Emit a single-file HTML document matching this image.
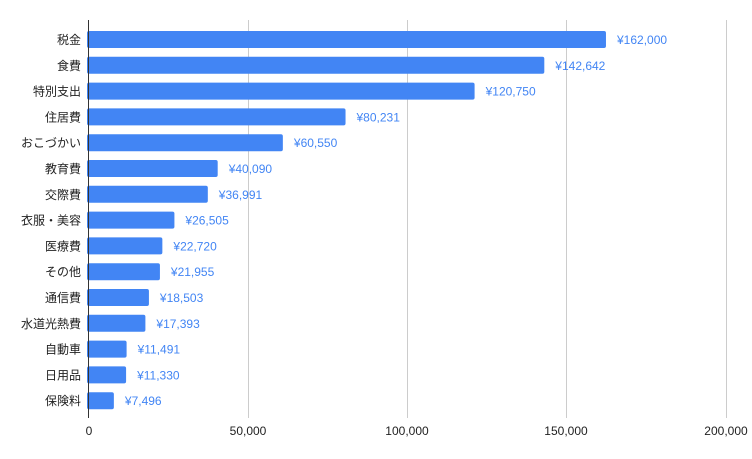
<!DOCTYPE html><html><head><meta charset="utf-8"><style>body{margin:0;background:#fff}svg{display:block}</style></head><body>
<svg width="752" height="459" xmlns="http://www.w3.org/2000/svg" font-family="Liberation Sans, Noto Sans CJK JP, sans-serif">
<g stroke="#cccccc" stroke-width="1">
<line x1="248.5" y1="20" x2="248.5" y2="418"/><line x1="407.5" y1="20" x2="407.5" y2="418"/><line x1="566.5" y1="20" x2="566.5" y2="418"/><line x1="726.5" y1="20" x2="726.5" y2="418"/>
</g>
<g fill="#4285f4">
<rect x="87" y="31" width="518.97" height="17" rx="2"/>
<rect x="87" y="56.8" width="457.31" height="17" rx="2"/>
<rect x="87" y="82.6" width="387.59" height="17" rx="2"/>
<rect x="87" y="108.4" width="258.54" height="17" rx="2"/>
<rect x="87" y="134.2" width="195.85" height="17" rx="2"/>
<rect x="87" y="160" width="130.69" height="17" rx="2"/>
<rect x="87" y="185.8" width="120.82" height="17" rx="2"/>
<rect x="87" y="211.6" width="87.42" height="17" rx="2"/>
<rect x="87" y="237.4" width="75.36" height="17" rx="2"/>
<rect x="87" y="263.2" width="72.93" height="17" rx="2"/>
<rect x="87" y="289" width="61.93" height="17" rx="2"/>
<rect x="87" y="314.8" width="58.4" height="17" rx="2"/>
<rect x="87" y="340.6" width="39.6" height="17" rx="2"/>
<rect x="87" y="366.4" width="39.09" height="17" rx="2"/>
<rect x="87" y="392.2" width="26.87" height="17" rx="2"/>
</g>
<line x1="88.5" y1="20" x2="88.5" y2="418" stroke="#333" stroke-width="1"/>
<g font-size="12" fill="#222" text-anchor="end">
<text x="81" y="44">税金</text>
<text x="81" y="69.8">食費</text>
<text x="81" y="95.6">特別支出</text>
<text x="81" y="121.4">住居費</text>
<text x="81" y="147.2">おこづかい</text>
<text x="81" y="173">教育費</text>
<text x="81" y="198.8">交際費</text>
<text x="81" y="224.6">衣服・美容</text>
<text x="81" y="250.4">医療費</text>
<text x="81" y="276.2">その他</text>
<text x="81" y="302">通信費</text>
<text x="81" y="327.8">水道光熱費</text>
<text x="81" y="353.6">自動車</text>
<text x="81" y="379.4">日用品</text>
<text x="81" y="405.2">保険料</text>
</g>
<g font-size="12" fill="#4285f4">
<text x="617" y="44">¥162,000</text>
<text x="555.3" y="69.8">¥142,642</text>
<text x="485.6" y="95.6">¥120,750</text>
<text x="356.5" y="121.4">¥80,231</text>
<text x="293.9" y="147.2">¥60,550</text>
<text x="228.7" y="173">¥40,090</text>
<text x="218.8" y="198.8">¥36,991</text>
<text x="185.4" y="224.6">¥26,505</text>
<text x="173.4" y="250.4">¥22,720</text>
<text x="170.9" y="276.2">¥21,955</text>
<text x="159.9" y="302">¥18,503</text>
<text x="156.4" y="327.8">¥17,393</text>
<text x="137.6" y="353.6">¥11,491</text>
<text x="137.1" y="379.4">¥11,330</text>
<text x="124.9" y="405.2">¥7,496</text>
</g>
<g font-size="12" fill="#222" text-anchor="middle">
<text x="89" y="435">0</text><text x="248" y="435">50,000</text><text x="407" y="435">100,000</text><text x="566" y="435">150,000</text><text x="726" y="435">200,000</text>
</g>
</svg></body></html>
